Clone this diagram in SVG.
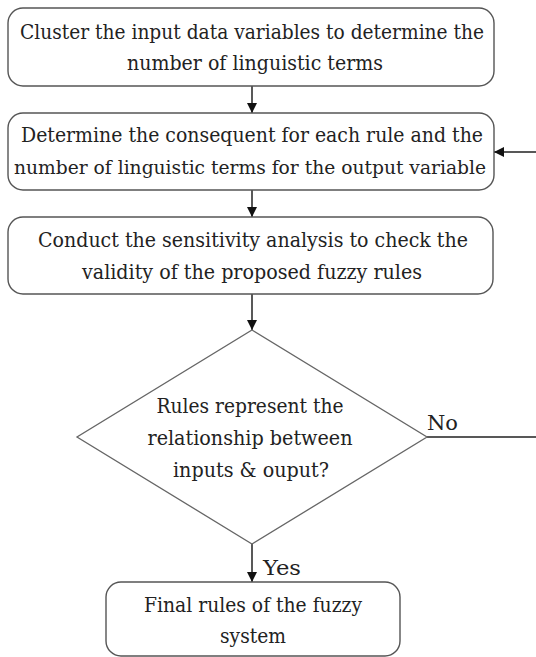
<svg xmlns="http://www.w3.org/2000/svg" width="536" height="657" viewBox="0 0 536 657">
<style>
.box{fill:#fff;stroke:#555;stroke-width:1.4}
.dia{fill:#fff;stroke:#666;stroke-width:1.3}
.c{fill:none;stroke:#222;stroke-width:1.5}
</style>
<defs>
<marker id="ah" viewBox="0 0 10 10" refX="10" refY="5" markerWidth="10" markerHeight="10" markerUnits="userSpaceOnUse" orient="auto">
<path d="M0,0 L10,5 L0,10 Z" fill="#111"/>
</marker>
</defs>
<rect width="536" height="657" fill="#fff"/>
<g id="connectors">
<line class="c" x1="252" y1="86" x2="252" y2="113" marker-end="url(#ah)"/>
<line class="c" x1="252" y1="190" x2="252" y2="217" marker-end="url(#ah)"/>
<line class="c" x1="252" y1="294" x2="252" y2="330" marker-end="url(#ah)"/>
<line class="c" x1="252" y1="544" x2="252" y2="582" marker-end="url(#ah)"/>
<path class="c" d="M427,437 H545 V152 H494" marker-end="url(#ah)"/>
<g font-family="DejaVu Serif, serif" font-size="21" fill="#222">
<text x="427" y="430" textLength="31" lengthAdjust="spacingAndGlyphs">No</text>
<text x="263" y="575" textLength="38" lengthAdjust="spacingAndGlyphs">Yes</text>
</g>
</g>
<g font-family="DejaVu Serif, serif" font-size="21" fill="#222" text-anchor="middle">
<g id="n1">
<rect class="box" x="8" y="8" width="486" height="78" rx="15"/>
<text x="252" y="39" font-size="19.5" textLength="464" lengthAdjust="spacingAndGlyphs">Cluster the input data variables to determine the</text>
<text x="255" y="70" textLength="256" lengthAdjust="spacingAndGlyphs">number of linguistic terms</text>
</g>
<g id="n2">
<rect class="box" x="8" y="113" width="486" height="77" rx="15"/>
<text x="252" y="142" font-size="20" textLength="462" lengthAdjust="spacingAndGlyphs">Determine the consequent for each rule and the</text>
<text x="250" y="174" font-size="19" textLength="472" lengthAdjust="spacingAndGlyphs">number of linguistic terms for the output variable</text>
</g>
<g id="n3">
<rect class="box" x="8" y="217" width="485" height="77" rx="15"/>
<text x="253" y="247" font-size="20" textLength="430" lengthAdjust="spacingAndGlyphs">Conduct the sensitivity analysis to check the</text>
<text x="252" y="279" textLength="340" lengthAdjust="spacingAndGlyphs">validity of the proposed fuzzy rules</text>
</g>
<g id="n4">
<polygon class="dia" points="252,330 427,437 252,544 77,437"/>
<text x="250" y="413" textLength="187" lengthAdjust="spacingAndGlyphs">Rules represent the</text>
<text x="250" y="445" textLength="205" lengthAdjust="spacingAndGlyphs">relationship between</text>
<text x="251" y="477" textLength="156" lengthAdjust="spacingAndGlyphs">inputs &amp; ouput?</text>
</g>
<g id="n5">
<rect class="box" x="106" y="582" width="294" height="74" rx="15"/>
<text x="253" y="612" textLength="218" lengthAdjust="spacingAndGlyphs">Final rules of the fuzzy</text>
<text x="253" y="643" textLength="66" lengthAdjust="spacingAndGlyphs">system</text>
</g>
</g>
</svg>
